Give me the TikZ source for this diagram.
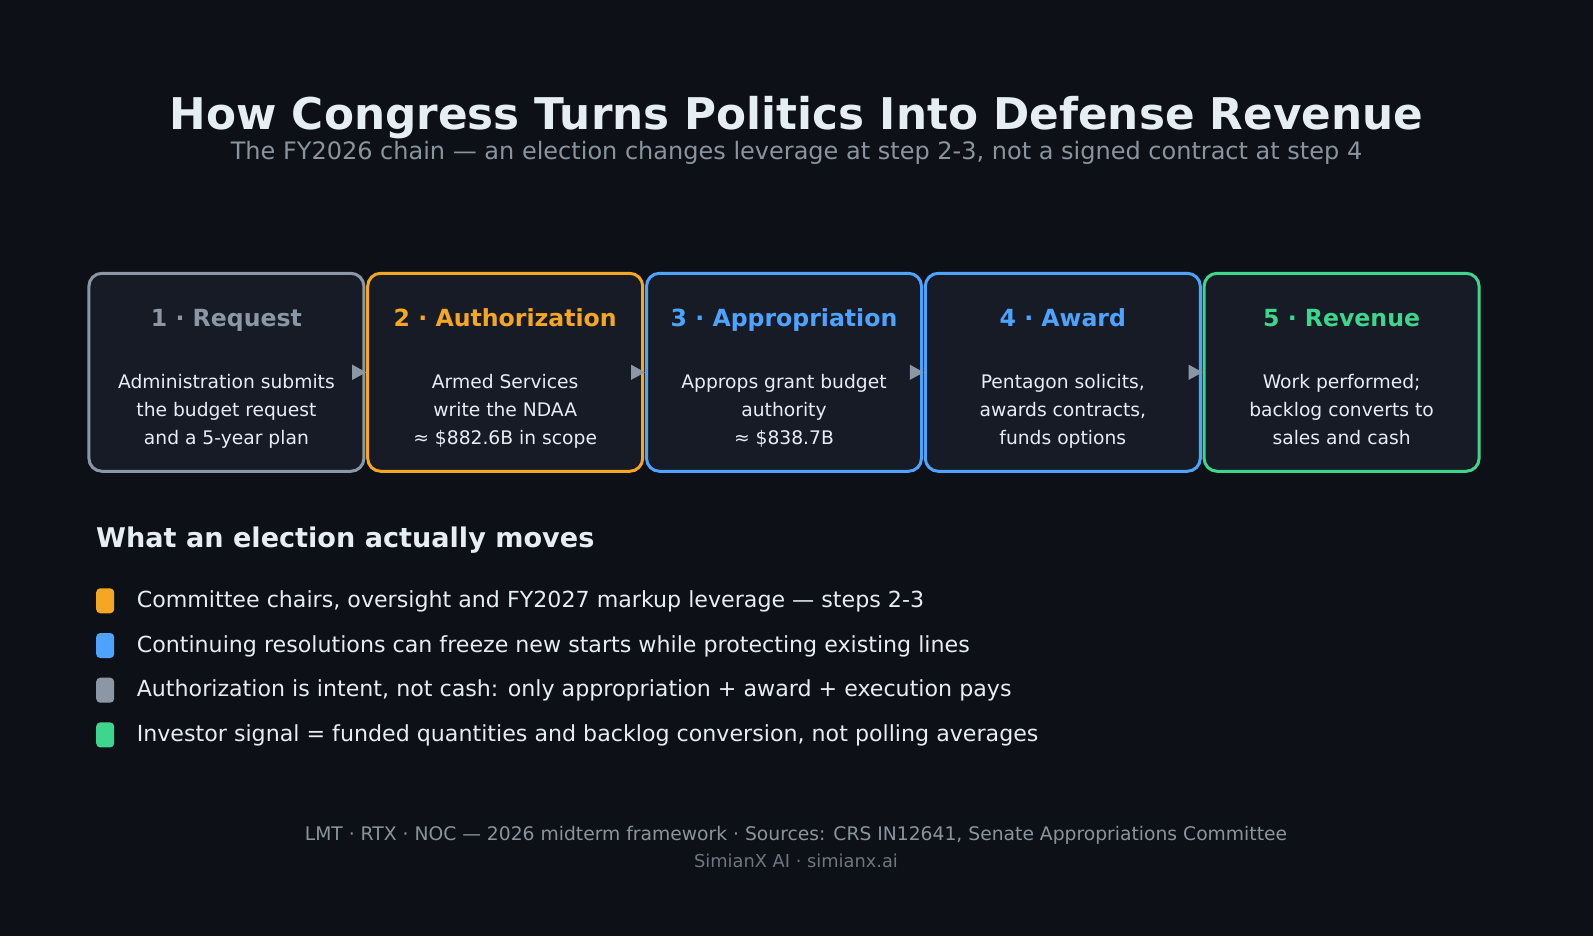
\documentclass[tikz,border=0pt]{standalone}
\usepackage{fontspec}
\setmainfont{DejaVu Sans}
\usepackage{xcolor}
\usetikzlibrary{positioning,arrows.meta}

\definecolor{bgdark}{HTML}{0D1117}
\definecolor{cardfill}{HTML}{161B26}
\definecolor{txtlight}{HTML}{E6EDF3}
\definecolor{txtmuted}{HTML}{8B949E}
\definecolor{txtfaint}{HTML}{6E7681}
\definecolor{stepgray}{HTML}{8B97A5}
\definecolor{steporange}{HTML}{F5A623}
\definecolor{stepblue}{HTML}{4DA3FF}
\definecolor{stepgreen}{HTML}{3DD68C}

\newcommand{\fsz}[2]{\fontsize{#1}{#2}\selectfont}

\begin{document}
\begin{tikzpicture}[x=1pt, y=-1pt,
    card/.style={rectangle, draw=#1, line width=3pt, fill=cardfill, rounded corners=13pt, minimum width=275pt, minimum height=198pt},
    cardtitle/.style={anchor=base, text=#1, font=\bfseries\fsz{23.6}{28}},
    cardbody/.style={anchor=base, align=center, text=txtlight, font=\fsz{18.7}{28}},
    arrow/.style={draw=stepgray, line width=1pt, -{Triangle[length=14pt, width=15pt]}},
    chip/.style={rectangle, fill=#1, rounded corners=4pt, minimum width=18pt, minimum height=25pt, inner sep=0pt},
    item/.style={anchor=base west, text=txtlight, inner sep=0pt, font=\fsz{22.15}{26}}
]
\fill[bgdark] (0,0) rectangle (1593,936);
\useasboundingbox (0,0) rectangle (1593,936);

\node[anchor=base, text=txtlight, font=\bfseries\fsz{43.7}{52}] (title) at (796.5,130) {How Congress Turns Politics Into Defense Revenue};
\node[anchor=base, text=txtmuted, font=\fsz{24}{28}] (subtitle) at (796.5,160) {The FY2026 chain — an election changes leverage at step 2-3, not a signed contract at step 4};

% the five steps of the chain
\node[card=stepgray]   (req)   at (226.4,372.3) {};
\node[card=steporange] (auth)  at (505.2,372.3) {};
\node[card=stepblue]   (appr)  at (784.0,372.3) {};
\node[card=stepblue]   (award) at (1062.8,372.3) {};
\node[card=stepgreen]  (rev)   at (1341.6,372.3) {};

\node[cardtitle=stepgray]   (req_t)   at (226.4,326.5) {1 · Request};
\node[cardtitle=steporange] (auth_t)  at (505.2,326.5) {2 · Authorization};
\node[cardtitle=stepblue]   (appr_t)  at (784.0,326.5) {3 · Appropriation};
\node[cardtitle=stepblue]   (award_t) at (1062.8,326.5) {4 · Award};
\node[cardtitle=stepgreen]  (rev_t)   at (1341.6,326.5) {5 · Revenue};

\node[cardbody] (req_b)   at (226.4,444) {Administration submits\\the budget request\\and a 5-year plan};
\node[cardbody] (auth_b)  at (505.2,444) {Armed Services\\write the NDAA\\≈ \$882.6B in scope};
\node[cardbody] (appr_b)  at (784.0,444) {Approps grant budget\\authority\\≈ \$838.7B};
\node[cardbody] (award_b) at (1062.8,444) {Pentagon solicits,\\awards contracts,\\funds options};
\node[cardbody] (rev_b)   at (1341.6,444) {Work performed;\\backlog converts to\\sales and cash};

\draw[arrow] (req.east) -- (auth.west);
\draw[arrow] (auth.east) -- (appr.west);
\draw[arrow] (appr.east) -- (award.west);
\draw[arrow] (award.east) -- (rev.west);

% what moves with an election
\node[anchor=base west, inner sep=0pt, text=txtlight, font=\bfseries\fsz{27.1}{32}] (moves) at (96,547) {What an election actually moves};

\node[chip=steporange] (c1) at (105.2,600.8) {};
\node[chip=stepblue]   (c2) at (105.2,645.5) {};
\node[chip=stepgray]   (c3) at (105.2,690.2) {};
\node[chip=stepgreen]  (c4) at (105.2,734.9) {};

\node[item] (i1) at (136.6,607.3) {Committee chairs, oversight and FY2027 markup leverage — steps 2-3};
\node[item] (i2) at (136.6,652.0) {Continuing resolutions can freeze new starts while protecting existing lines};
\node[item] (i3) at (136.6,696.7) {Authorization is intent, not cash: only appropriation + award + execution pays};
\node[item] (i4) at (136.6,741.4) {Investor signal = funded quantities and backlog conversion, not polling averages};

\node[anchor=base, text=txtmuted, font=\fsz{18.73}{22}] (sources) at (796,840.7) {LMT · RTX · NOC — 2026 midterm framework · Sources: CRS IN12641, Senate Appropriations Committee};
\node[anchor=base, text=txtfaint, font=\fsz{17.8}{20}] (brand) at (796,867.3) {SimianX AI · simianx.ai};
\end{tikzpicture}
\end{document}
